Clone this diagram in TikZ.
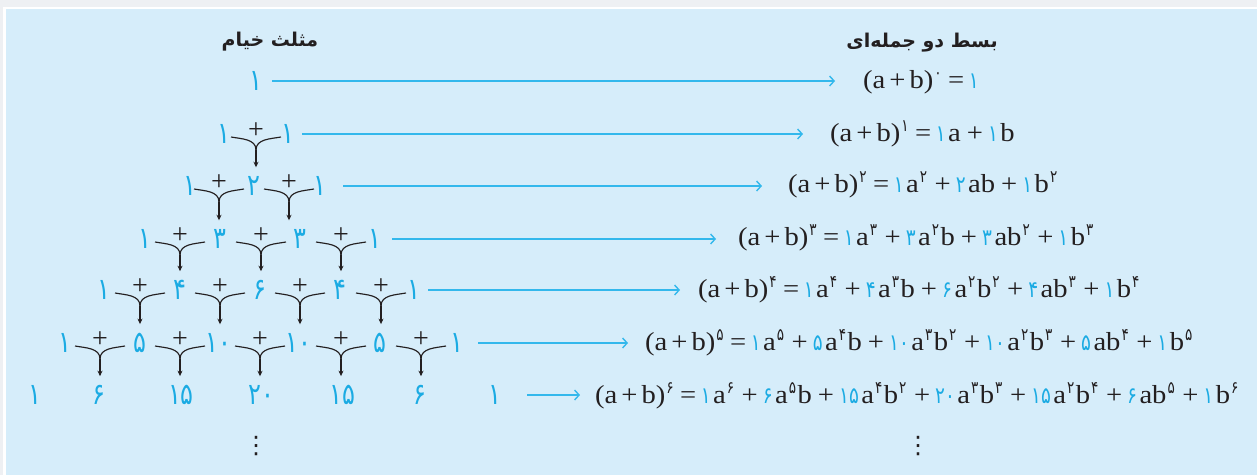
\documentclass[tikz,border=0pt]{standalone}
\usepackage{fontspec}
\setmainfont{Liberation Serif}
\newfontfamily\lat[FakeStretch=1.1]{Liberation Serif}
\newfontfamily\fa[Script=Arabic]{DejaVu Sans}
\newfontfamily\fd[FakeStretch=0.8]{DejaVu Sans}
\newfontfamily\fdd{DejaVu Sans}
\TeXXeTstate=1
\usetikzlibrary{arrows.meta}
\definecolor{bgout}{HTML}{EEF0F3}
\definecolor{panel}{HTML}{D6EDFA}
\definecolor{cy}{HTML}{1BABE3}
\definecolor{cyl}{HTML}{33B8EC}
\definecolor{ink}{HTML}{231F20}
\newcommand{\cof}[1]{\hspace{1.5pt}{\color{cy}\fd\fontsize{23}{23}\selectfont#1}\hspace{2.5pt}}
\newcommand{\pw}[1]{\hspace{1pt}\raisebox{10pt}{\fd\fontsize{17}{17}\selectfont#1}\hspace{1.5pt}}
\newcommand{\pls}{\hspace{6pt}+\hspace{3.5pt}}
\newcommand{\eqs}{\hspace{5pt}=\hspace{3pt}}
\newcommand{\apb}{(a\hspace{4pt}+\hspace{4pt}b)}
\begin{document}
\begin{tikzpicture}[x=1pt,y=-1pt,
  num/.style={text=cy, font=\fd\fontsize{30}{30}\selectfont, inner sep=0pt},
  plus/.style={text=ink, font=\fontsize{28}{28}\selectfont, inner sep=0pt},
  arm/.style={draw=ink, line width=1.15pt},
  stem/.style={draw=ink, line width=1.15pt, -{Stealth[length=5.5pt,width=5pt]}, shorten >=9pt},
  link/.style={draw=cyl, line width=1.4pt, -{Straight Barb[length=4.5pt,width=10pt]}},
  formula/.style={anchor=base west, inner sep=0pt, text=ink, font=\lat\fontsize{26}{26}\selectfont},
  title/.style={font=\fa\bfseries\fontsize{19}{19}\selectfont, text=ink, inner sep=0pt},
  vd/.style={text=ink, inner sep=0pt, font=\fdd\fontsize{24}{24}\selectfont}]
\fill[bgout] (0,0) rectangle (1257,475);
\fill[white] (3,7) rectangle (1257,475);
\fill[panel] (6,9) rectangle (1257,475);
\useasboundingbox (0,0) rectangle (1257,475);

% titles
\node[title] (t1) at (270,42) {\beginR مثلث خیام\endR};
\node[title] (t2) at (922,43) {\beginR بسط دو جمله^^^^200cای\endR};

% triangle numbers
\node[num] (n00) at (256,81) {۱};
\node[num] (n10) at (224,134) {۱};
\node[num] (n11) at (288,134) {۱};
\node[num] (n20) at (190,186) {۱};
\node[num] (n21) at (254,186) {۲};
\node[num] (n22) at (320,186) {۱};
\node[num] (n30) at (145,239) {۱};
\node[num] (n31) at (220,239) {۳};
\node[num] (n32) at (300,239) {۳};
\node[num] (n33) at (375,239) {۱};
\node[num] (n40) at (104,290) {۱};
\node[num] (n41) at (180,290) {۴};
\node[num] (n42) at (260,290) {۶};
\node[num] (n43) at (340,290) {۴};
\node[num] (n44) at (414,290) {۱};
\node[num] (n50) at (65,343) {۱};
\node[num] (n51) at (140,343) {۵};
\node[num] (n52) at (218,343) {۱۰};
\node[num] (n53) at (298,343) {۱۰};
\node[num] (n54) at (380,343) {۵};
\node[num] (n55) at (457,343) {۱};
\node[num] (n60) at (35,395) {۱};
\node[num] (n61) at (99,395) {۶};
\node[num] (n62) at (181,395) {۱۵};
\node[num] (n63) at (261,395) {۲۰};
\node[num] (n64) at (342,395) {۱۵};
\node[num] (n65) at (420,395) {۶};
\node[num] (n66) at (495,395) {۱};

% adders: row y / stem x / child node
\foreach \y/\s/\c in {134/256/n21,
  186/219/n31, 186/289/n32,
  239/180/n41, 239/261/n42, 239/341/n43,
  290/140/n51, 290/220/n52, 290/300/n53, 290/381/n54,
  343/100/n61, 343/180/n62, 343/260/n63, 343/341/n64, 343/421/n65}{
  \node[plus] (p-\c) at (\s,\y-3) {+};
  \coordinate (L-\c) at (\s-25,\y+3);
  \coordinate (R-\c) at (\s+25,\y+3);
  \coordinate (M-\c) at (\s,\y+16);
  \draw[arm] (L-\c) to[out=-10,in=90] (M-\c);
  \draw[arm] (R-\c) to[out=190,in=90] (M-\c);
  \draw[stem] (M-\c) -- (M-\c |- \c.north);
}

% formulas
\node[formula] (f0) at (863,88) {\apb\pw{۰}\eqs\cof{۱}};
\node[formula] (f1) at (830,141) {\apb\pw{۱}\eqs\cof{۱}a\pls\cof{۱}b};
\node[formula] (f2) at (788,192.5) {\apb\pw{۲}\eqs\cof{۱}a\pw{۲}\pls\cof{۲}ab\pls\cof{۱}b\pw{۲}};
\node[formula] (f3) at (738,245) {\apb\pw{۳}\eqs\cof{۱}a\pw{۳}\pls\cof{۳}a\pw{۲}b\pls\cof{۳}ab\pw{۲}\pls\cof{۱}b\pw{۳}};
\node[formula] (f4) at (698,297.5) {\apb\pw{۴}\eqs\cof{۱}a\pw{۴}\pls\cof{۴}a\pw{۳}b\pls\cof{۶}a\pw{۲}b\pw{۲}\pls\cof{۴}ab\pw{۳}\pls\cof{۱}b\pw{۴}};
\node[formula] (f5) at (645,350) {\apb\pw{۵}\eqs\cof{۱}a\pw{۵}\pls\cof{۵}a\pw{۴}b\pls\cof{۱۰}a\pw{۳}b\pw{۲}\pls\cof{۱۰}a\pw{۲}b\pw{۳}\pls\cof{۵}ab\pw{۴}\pls\cof{۱}b\pw{۵}};
\node[formula] (f6) at (595,403.5) {\apb\pw{۶}\eqs\cof{۱}a\pw{۶}\pls\cof{۶}a\pw{۵}b\pls\cof{۱۵}a\pw{۴}b\pw{۲}\pls\cof{۲۰}a\pw{۳}b\pw{۳}\pls\cof{۱۵}a\pw{۲}b\pw{۴}\pls\cof{۶}ab\pw{۵}\pls\cof{۱}b\pw{۶}};

% links
\foreach \n/\f/\a/\b in {n00/f0/16/28, n11/f1/14/27, n22/f2/23/26, n33/f3/17/22,
  n44/f4/14/18, n55/f5/21/17, n66/f6/32/15}{
  \draw[link, shorten <=\a pt, shorten >=\b pt] (\n.center) -- (\n.center -| \f.west);
}

% continuation dots
\node[vd] (d1) at (256,446) {⋮};
\node[vd] (d2) at (918,446) {⋮};
\end{tikzpicture}
\end{document}
